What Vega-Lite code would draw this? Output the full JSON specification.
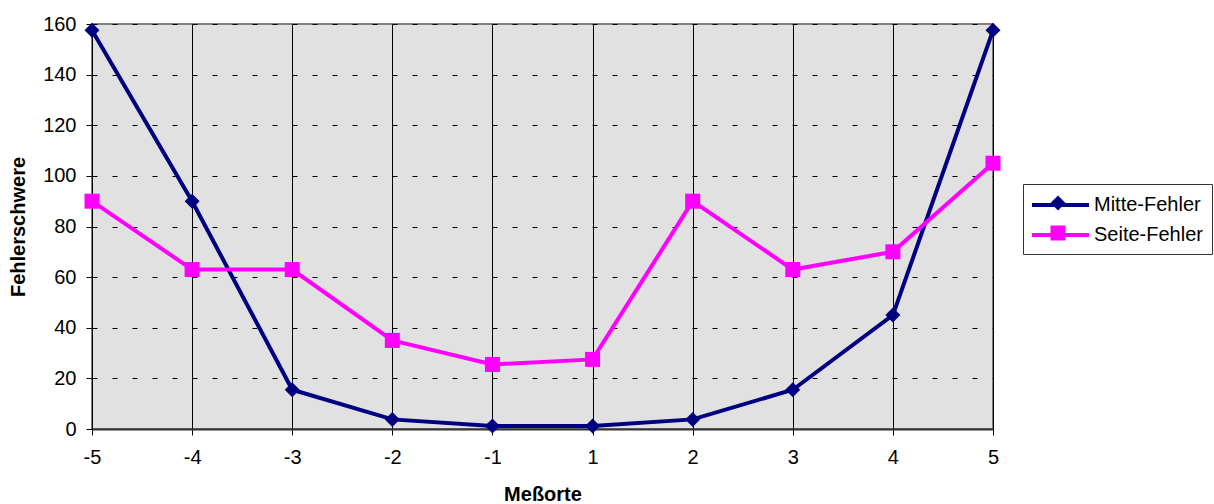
{
  "$schema": "https://vega.github.io/schema/vega-lite/v6.json",
  "width": 901,
  "height": 405,
  "autosize": {"type": "none"},
  "padding": {"left": 92, "top": 24, "right": 221, "bottom": 75},
  "background": "white",
  "config": {
    "font": "Liberation Sans",
    "view": {"fill": "#e1e1e1", "stroke": "#808080", "strokeWidth": 2},
    "axis": {
      "labelFont": "Liberation Sans",
      "labelFontSize": 20,
      "labelColor": "black",
      "titleFont": "Liberation Sans",
      "titleFontSize": 20,
      "titleFontWeight": "bold",
      "titleColor": "black",
      "tickColor": "black",
      "tickSize": 6,
      "domainColor": "#333333"
    }
  },
  "data": {
    "values": [
      {"x": "-5", "series": "Mitte-Fehler", "value": 157.5},
      {"x": "-4", "series": "Mitte-Fehler", "value": 90},
      {"x": "-3", "series": "Mitte-Fehler", "value": 15.5},
      {"x": "-2", "series": "Mitte-Fehler", "value": 3.8},
      {"x": "-1", "series": "Mitte-Fehler", "value": 1.2},
      {"x": "1", "series": "Mitte-Fehler", "value": 1.2},
      {"x": "2", "series": "Mitte-Fehler", "value": 3.8},
      {"x": "3", "series": "Mitte-Fehler", "value": 15.5},
      {"x": "4", "series": "Mitte-Fehler", "value": 45},
      {"x": "5", "series": "Mitte-Fehler", "value": 157.5},
      {"x": "-5", "series": "Seite-Fehler", "value": 90},
      {"x": "-4", "series": "Seite-Fehler", "value": 63},
      {"x": "-3", "series": "Seite-Fehler", "value": 63},
      {"x": "-2", "series": "Seite-Fehler", "value": 35},
      {"x": "-1", "series": "Seite-Fehler", "value": 25.5},
      {"x": "1", "series": "Seite-Fehler", "value": 27.5},
      {"x": "2", "series": "Seite-Fehler", "value": 90},
      {"x": "3", "series": "Seite-Fehler", "value": 63},
      {"x": "4", "series": "Seite-Fehler", "value": 70},
      {"x": "5", "series": "Seite-Fehler", "value": 105}
    ]
  },
  "encoding": {
    "x": {
      "field": "x",
      "type": "nominal",
      "sort": ["-5", "-4", "-3", "-2", "-1", "1", "2", "3", "4", "5"],
      "scale": {"type": "point", "padding": 0},
      "axis": {
        "title": "Meßorte",
        "labelAngle": 0,
        "labelPadding": 12,
        "grid": true,
        "gridColor": "black",
        "gridWidth": 1,
        "gridOpacity": 1,
        "domainColor": "#333333",
        "domainWidth": 2,
        "titleY": 71,
        "titleBaseline": "alphabetic"
      }
    },
    "y": {
      "field": "value",
      "type": "quantitative",
      "scale": {"domain": [0, 160], "nice": false},
      "axis": {
        "title": "Fehlerschwere",
        "values": [0, 20, 40, 60, 80, 100, 120, 140, 160],
        "labelPadding": 10,
        "grid": true,
        "gridColor": "black",
        "gridDash": [5, 15],
        "gridWidth": 1,
        "gridOpacity": 1,
        "domainColor": "black",
        "titleX": -68,
        "titleBaseline": "alphabetic"
      }
    }
  },
  "layer": [
    {
      "mark": {"type": "line", "strokeWidth": 4},
      "encoding": {
        "stroke": {
          "field": "series",
          "type": "nominal",
          "scale": {"range": ["#000080", "#ff00ff"]},
          "legend": {
            "title": null,
            "orient": "none",
            "legendX": 931,
            "legendY": 160,
            "padding": 9,
            "strokeColor": "#333333",
            "labelFont": "Liberation Sans",
            "labelFontSize": 20,
            "labelColor": "black",
            "labelOffset": 38,
            "rowPadding": 8,
            "symbolType": "M-1.2,0H4.5",
            "symbolSize": 400,
            "symbolStrokeWidth": 4
          }
        }
      }
    },
    {
      "mark": {"type": "point", "filled": true, "opacity": 1, "size": 225},
      "encoding": {
        "color": {
          "field": "series",
          "type": "nominal",
          "scale": {"domain": ["Mitte-Fehler", "Seite-Fehler"], "range": ["#000080", "#ff00ff"]},
          "legend": {
            "title": null,
            "orient": "none",
            "legendX": 947,
            "legendY": 160,
            "padding": 9,
            "labelFont": "Liberation Sans",
            "labelFontSize": 20,
            "labelColor": "transparent",
            "labelExpr": "' '",
            "labelOffset": 38,
            "rowPadding": 8,
            "symbolSize": 225,
            "symbolOpacity": 1
          }
        },
        "shape": {
          "field": "series",
          "type": "nominal",
          "scale": {"domain": ["Mitte-Fehler", "Seite-Fehler"], "range": ["diamond", "square"]},
          "legend": {
            "title": null,
            "orient": "none",
            "legendX": 947,
            "legendY": 160,
            "padding": 9,
            "labelFont": "Liberation Sans",
            "labelFontSize": 20,
            "labelColor": "transparent",
            "labelExpr": "' '",
            "labelOffset": 38,
            "rowPadding": 8,
            "symbolSize": 225,
            "symbolOpacity": 1
          }
        }
      }
    }
  ]
}
